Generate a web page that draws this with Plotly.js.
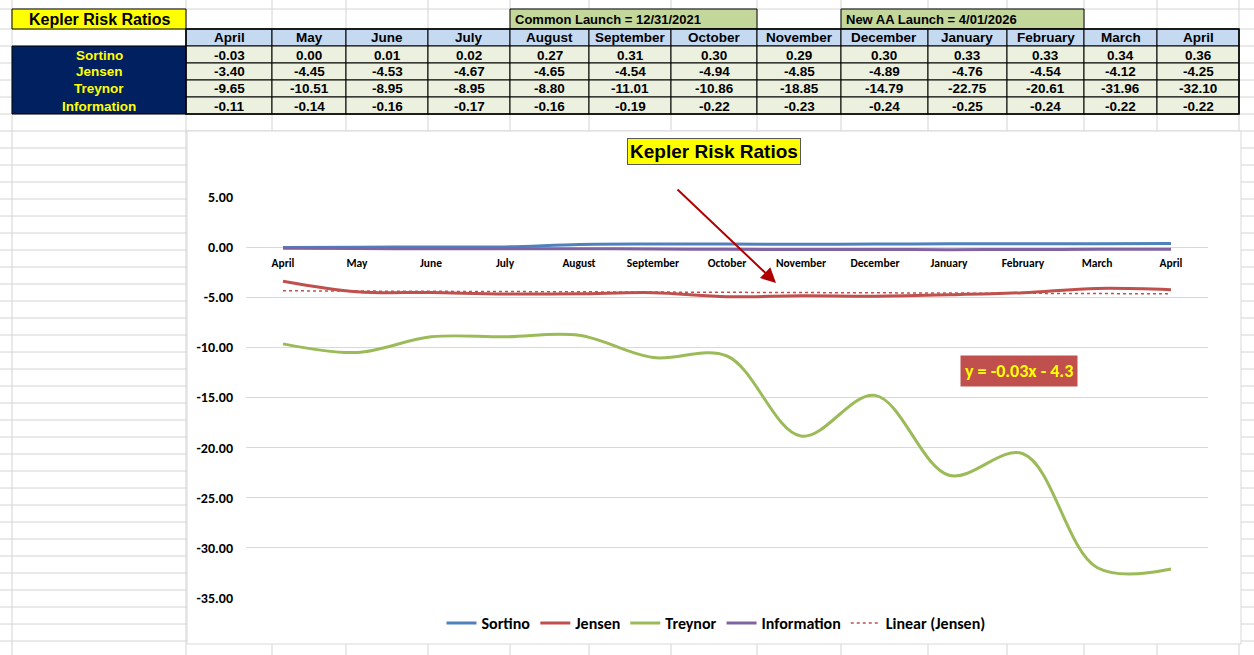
<!DOCTYPE html>
<html>
<head>
<meta charset="utf-8">
<script src="https://cdn.plot.ly/plotly-3.0.1.min.js"></script>
<style>
  body { margin: 0; background: #fff; }
  #chart { width: 1254px; height: 655px; }
</style>
</head>
<body>
<div id="chart"></div>
<script>
// values
const months = ["April", "May", "June", "July", "August", "September", "October",
                "November", "December", "January", "February", "March", "April"];
const ratioNames = ["Sortino", "Jensen", "Treynor", "Information"];
const sortino = [-0.03, 0.00, 0.01, 0.02, 0.27, 0.31, 0.30, 0.29, 0.30, 0.33, 0.33, 0.34, 0.36];
const jensen = [-3.40, -4.45, -4.53, -4.67, -4.65, -4.54, -4.94, -4.85, -4.89, -4.76, -4.54, -4.12, -4.25];
const treynor = [-9.65, -10.51, -8.95, -8.95, -8.80, -11.01, -10.86, -18.85, -14.79, -22.75, -20.61, -31.96, -32.10];
const information = [-0.11, -0.14, -0.16, -0.17, -0.16, -0.19, -0.22, -0.23, -0.24, -0.25, -0.24, -0.22, -0.22];
const yTicks = [5, 0, -5, -10, -15, -20, -25, -30, -35];
const trendLabel = "y = -0.03x - 4.3";

// page geometry (pixels -> paper)
const W = 1254, H = 655;
const px = x => x / W;
const py = y => 1 - y / H;

const colEdges = [12, 186, 272, 346, 428, 510, 589, 671, 757, 841, 928, 1007, 1084, 1157, 1239];
const rowEdges = [29, 46, 63, 80, 97, 114];
const gridRows = [9].concat(rowEdges);
for (let y = 131; y < H; y += 17) gridRows.push(y);

const arial = "Liberation Sans, Arial, sans-serif";
const calibri = "Carlito, Lato, sans-serif";

// linear trend of Jensen (excel style, x = 1..n)
const idx = months.map((m, i) => i);
const n = jensen.length;
const mx = idx.reduce((a, i) => a + i + 1, 0) / n;
const my = jensen.reduce((a, v) => a + v, 0) / n;
let sxy = 0, sxx = 0;
idx.forEach(i => { sxy += (i + 1 - mx) * (jensen[i] - my); sxx += (i + 1 - mx) ** 2; });
const slope = sxy / sxx, intercept = my - slope * mx;
const trend = idx.map(i => slope * (i + 1) + intercept);

const smooth = c => ({color: c, width: 3, shape: "spline", smoothing: 1});

let data = [
  {x: idx, y: sortino, name: "Sortino", mode: "lines", line: smooth("#4F81BD"), hoverinfo: "skip"},
  {x: idx, y: jensen, name: "Jensen", mode: "lines", line: smooth("#C0504D"), hoverinfo: "skip"},
  {x: idx, y: treynor, name: "Treynor", mode: "lines", line: smooth("#9BBB59"), hoverinfo: "skip"},
  {x: idx, y: information, name: "Information", mode: "lines", line: smooth("#8064A2"), hoverinfo: "skip"},
  {x: idx, y: trend, name: "Linear (Jensen)", mode: "lines",
   line: {color: "#C0504D", width: 1.5, dash: "dot"}, hoverinfo: "skip"},
];

const rect = (x0, x1, y0, y1, fill, lineColor) => ({type: "rect", layer: "below", xref: "paper", yref: "paper",
  x0: px(x0), x1: px(x1), y0: py(y1), y1: py(y0), fillcolor: fill,
  line: {color: lineColor || "#000", width: 1}});
const label = (x, y, text, size, color, extra) => Object.assign({xref: "paper", yref: "paper",
  x: px(x), y: py(y), xanchor: "center", yanchor: "middle", text: text, showarrow: false,
  font: {family: arial, size: size, color: color, weight: "bold"}}, extra || {});

// spreadsheet grid behind everything
let shapes = [];
gridRows.forEach(y => shapes.push({type: "line", layer: "below", xref: "paper", yref: "paper",
  x0: 0, x1: 1, y0: py(y), y1: py(y), line: {color: "#D4D4D4", width: 1}}));
colEdges.forEach(x => shapes.push({type: "line", layer: "below", xref: "paper", yref: "paper",
  x0: px(x), x1: px(x), y0: 0, y1: 1, line: {color: "#D4D4D4", width: 1}}));
// chart area
shapes.push(rect(187, 1241, 131, 644, "#fff", "#D9D9D9"));

let annotations = [];

// table: title cells
shapes.push(rect(12, 186, 9, 29, "#FFFF00"));
shapes.push(rect(510, 757, 9, 29, "#C4D79B"));
shapes.push(rect(841, 1084, 9, 29, "#C4D79B"));
annotations.push(label(99, 19.5, "Kepler Risk Ratios", 16, "#000"));
annotations.push(label(513, 19.5, "Common Launch = 12/31/2021", 13, "#000", {xanchor: "left"}));
annotations.push(label(844, 19.5, "New AA Launch = 4/01/2026", 13, "#000", {xanchor: "left"}));

// table: row names
shapes.push(rect(12, 186, rowEdges[1], rowEdges[5], "#002060"));
ratioNames.forEach((name, r) =>
  annotations.push(label(99, (rowEdges[r + 1] + rowEdges[r + 2]) / 2 + 0.5, name, 13.5, "#FFFF00")));

// table: month header and values
const rows = [sortino, jensen, treynor, information];
months.forEach((m, c) => {
  const x0 = colEdges[c + 1], x1 = colEdges[c + 2], xc = (x0 + x1) / 2;
  shapes.push(rect(x0, x1, rowEdges[0], rowEdges[1], "#C5D9F1"));
  annotations.push(label(xc, (rowEdges[0] + rowEdges[1]) / 2 + 0.5, m, 13.5, "#000"));
  rows.forEach((vals, r) => {
    shapes.push(rect(x0, x1, rowEdges[r + 1], rowEdges[r + 2], "#EBF1DE"));
    annotations.push(label(xc, (rowEdges[r + 1] + rowEdges[r + 2]) / 2 + 0.5, vals[c].toFixed(2), 13.5, "#000"));
  });
});
shapes.push(Object.assign(rect(186, 1239, 29, 114, "rgba(0,0,0,0)"), {line: {color: "#000", width: 1.5}}));

// chart labels
annotations.push(label(714, 152, "Kepler Risk Ratios", 19, "#000",
  {bgcolor: "#FFFF00", bordercolor: "#595959", borderwidth: 1, borderpad: 2}));
annotations.push(label(1019, 370.5, trendLabel, 18, "#FFFF00",
  {bgcolor: "#C0504D", borderpad: 4, font: {family: calibri, size: 18, color: "#FFFF00", weight: "bold"}}));
annotations.push({xref: "paper", yref: "paper", x: px(776), y: py(283), ax: -100, ay: -95, text: "",
  showarrow: true, arrowhead: 2, arrowsize: 1.5, arrowwidth: 2, arrowcolor: "#B00000"});

const zeroPos = py(598) + (0 - (-35)) / 40 * (py(197) - py(598));

let layout = {
  width: W,
  height: H,
  margin: {l: 0, r: 0, t: 0, b: 0},
  paper_bgcolor: "#fff",
  plot_bgcolor: "rgba(0,0,0,0)",
  showlegend: true,
  legend: {
    orientation: "h", x: px(716), xanchor: "center", y: py(623), yanchor: "middle",
    font: {family: calibri, size: 16, color: "#000", weight: "bold"},
    bgcolor: "rgba(0,0,0,0)",
  },
  xaxis: {
    domain: [px(246), px(1208)], range: [-0.5, 12.5],
    tickvals: idx, ticktext: months,
    anchor: "free", position: zeroPos,
    showgrid: false, zeroline: false, showline: false, ticks: "",
    ticklabelstandoff: 7,
    tickfont: {family: calibri, size: 11.5, color: "#000", weight: "bold"},
    fixedrange: true,
  },
  yaxis: {
    domain: [py(598), py(197)], range: [-35, 5],
    tickvals: yTicks, ticktext: yTicks.map(v => v.toFixed(2)),
    gridcolor: "#D9D9D9", gridwidth: 1, zeroline: false, showline: false,
    ticklabelstandoff: 12,
    tickfont: {family: calibri, size: 14, color: "#000", weight: "bold"},
    fixedrange: true,
  },
  shapes: shapes,
  annotations: annotations,
};

Plotly.newPlot("chart", data, layout, {displayModeBar: false, staticPlot: true});
</script>
</body>
</html>
